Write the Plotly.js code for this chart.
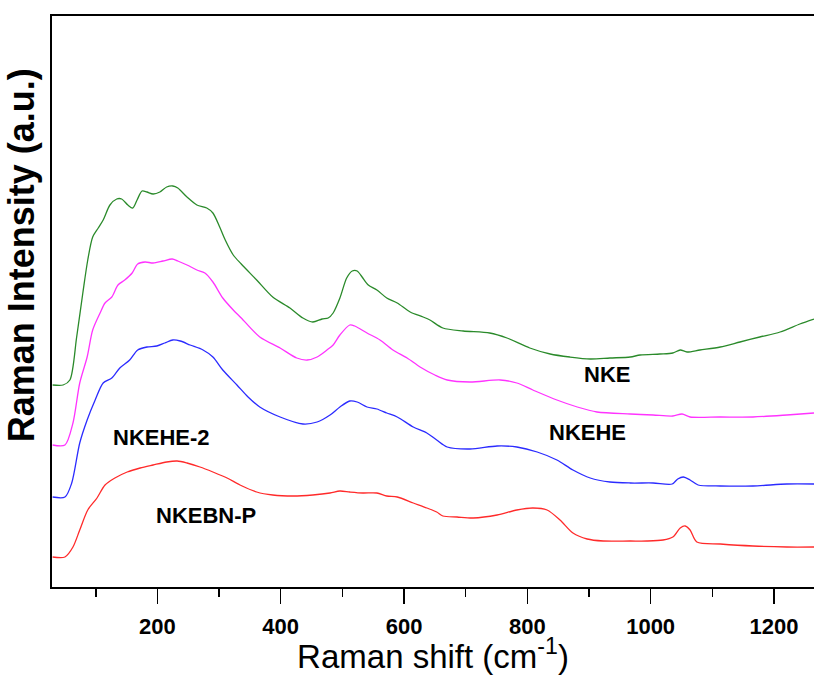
<!DOCTYPE html>
<html>
<head>
<meta charset="utf-8">
<script src="https://cdn.plot.ly/plotly-3.0.1.min.js"></script>
<style>html,body{margin:0;padding:0;background:#fff;}#chart{width:814px;height:675px;}</style>
</head>
<body>
<div id="chart"></div>
<script>
// Raman shift (cm-1) and intensity (a.u., offset-stacked)
const greenX = [30,47,58,69,79,87,95,104,112,123,134,142,152,160,167,175,183,193,204,215,225,233,248,264,280,290,301,310,323,336,361,387,415,436,452,467,477,485,496,507,516,524,532,542,556,572,589,610,631,642,663,696,739,767,804,837,869,902,934,967,983,1015,1036,1048,1059,1080,1113,1145,1177,1210,1242,1265];
const greenY = [202,202,207,250,294,327,350,359,367,382,388,388,382,379,387,396,395,393,395,400,401,399,390,382,379,374,360,347,332,323,307,290,279,269,265,268,269,274,289,309,316,316,310,302,297,289,284,275,270,267,259,256,254,249,239,233,230,228,229,230,232,233,234,237,235,237,240,245,250,255,263,268];

const magentaX = [30,50,63,74,86,95,107,115,126,136,147,159,168,180,193,209,224,233,248,264,277,290,306,323,336,366,399,426,443,459,475,485,496,512,520,540,561,582,605,626,650,670,707,756,783,809,848,881,913,967,1004,1036,1051,1064,1113,1166,1221,1265];
const magentaY = [142,142,164,204,230,257,274,284,290,302,307,314,323,325,324,326,328,326,322,317,314,305,289,277,269,250,239,229,227,230,237,242,252,262,261,254,247,237,229,220,212,207,205,207,204,197,187,180,175,173,172,171,173,170,170,170,172,174];

const blueX = [30,50,61,74,86,99,112,126,139,155,168,183,199,212,225,237,253,274,290,306,329,347,366,399,436,459,480,496,512,524,540,556,572,589,615,637,653,670,707,751,783,816,848,874,902,934,967,1004,1035,1044,1053,1064,1077,1113,1166,1221,1265];
const blueY = [90,90,104,144,167,187,204,209,219,227,237,240,241,244,247,246,242,237,230,217,202,190,180,170,163,165,172,180,186,185,180,178,174,170,160,154,147,140,138,141,140,135,127,117,109,105,104,104,103,108,110,107,102,101,101,103,103];

const redX = [30,50,63,74,87,102,115,131,151,172,193,215,232,248,269,290,313,334,361,387,420,452,480,496,512,533,556,572,589,615,637,653,663,686,712,751,783,809,832,853,874,897,923,967,994,1020,1036,1048,1056,1064,1075,1113,1166,1221,1265];
const redY = [30,30,40,57,77,89,102,109,115,119,122,125,126,124,120,115,109,102,95,92,91,92,94,96,95,94,94,91,90,84,79,75,71,70,69,72,77,79,77,67,54,48,46,46,46,47,50,59,61,57,45,43,41,40,40];

const seriesNames = ['NKE', 'NKEHE', 'NKEHE-2', 'NKEBN-P'];
const seriesColors = ['#2a8a2a', '#ff33ff', '#2b2bff', '#ff2a2a'];

const labelText = ['NKEHE-2', 'NKEBN-P', 'NKE', 'NKEHE'];
const labelX = [206, 279, 929, 898];
const labelY = [150, 72, 213, 155];

const tickVals = [200, 400, 600, 800, 1000, 1200];
const tickText = ['200', '400', '600', '800', '1000', '1200'];

const xs = [greenX, magentaX, blueX, redX];
const ys = [greenY, magentaY, blueY, redY];

const traces = xs.map((x, i) => ({
  x: x, y: ys[i], type: 'scatter', mode: 'lines', name: seriesNames[i],
  line: {color: seriesColors[i], width: 1.3, shape: 'spline', smoothing: 0.8},
  hoverinfo: 'skip'
}));

const annotations = labelText.map((t, i) => ({
  x: labelX[i], y: labelY[i], xref: 'x', yref: 'y', text: '<b>' + t + '</b>',
  showarrow: false, font: {family: 'Arial, Liberation Sans', size: 22, color: '#000'}
}));
annotations.push({
  x: -0.04, y: 0.58, xref: 'paper', yref: 'paper', xanchor: 'center', yanchor: 'middle',
  text: '<b>Raman Intensity (a.u.)</b>', textangle: -90, showarrow: false,
  font: {family: 'Arial, Liberation Sans', size: 36, color: '#000'}
});

const layout = {
  width: 814, height: 675,
  margin: {l: 52, r: 0, t: 16, b: 88},
  paper_bgcolor: '#fff', plot_bgcolor: '#fff',
  showlegend: false,
  font: {family: 'Arial, Liberation Sans', color: '#000'},
  xaxis: {
    range: [29, 1265], showgrid: false, zeroline: false,
    showline: true, linecolor: '#000', linewidth: 2, mirror: true,
    ticks: 'outside', ticklen: 15, tickwidth: 1.5, tickcolor: '#000',
    tickvals: tickVals, ticktext: tickText, ticklabelstandoff: 4,
    tickfont: {family: 'Arial, Liberation Sans', size: 22, color: '#000', weight: 'bold'},
    minor: {tickvals: [100, 300, 500, 700, 900, 1100], ticks: 'outside', ticklen: 8, tickwidth: 1.5, tickcolor: '#000'},
    title: {text: 'Raman shift (cm<sup>-1</sup>)', standoff: 8, font: {family: 'Arial, Liberation Sans', size: 33, color: '#000'}}
  },
  yaxis: {
    range: [0, 571], showgrid: false, zeroline: false,
    showline: true, linecolor: '#000', linewidth: 2,
    showticklabels: false, ticks: ''
  },
  annotations: annotations
};

Plotly.newPlot('chart', traces, layout, {staticPlot: true});
</script>
</body>
</html>
